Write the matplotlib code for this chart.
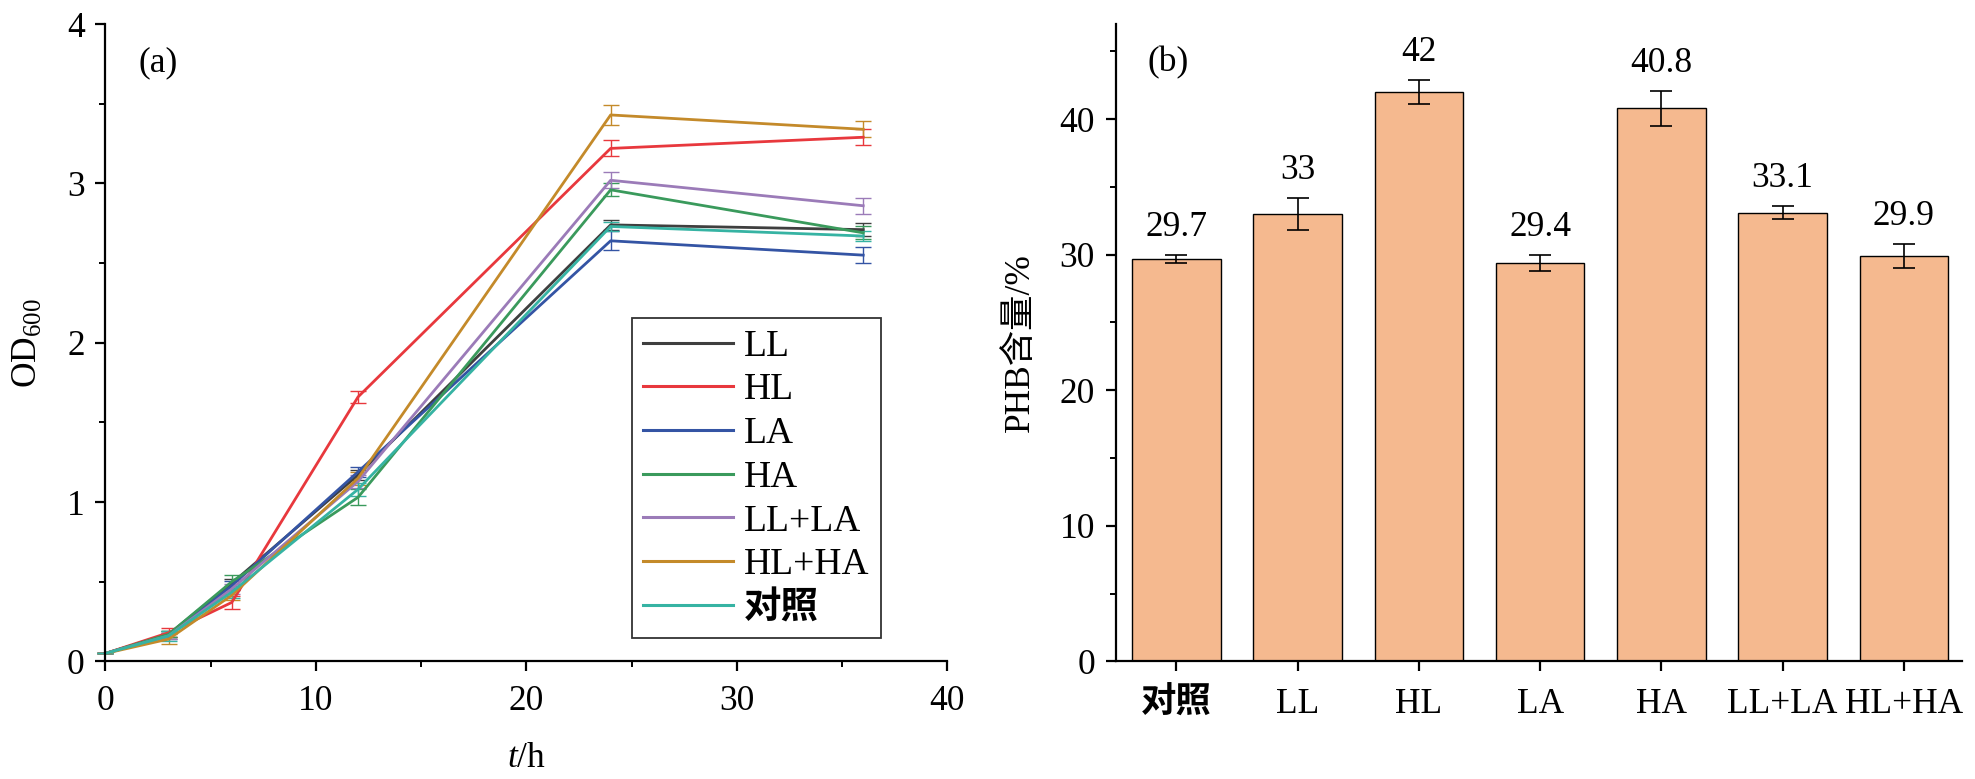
import numpy as np
import matplotlib
matplotlib.use('Agg')
import matplotlib.pyplot as plt
from matplotlib.ticker import MultipleLocator
from matplotlib.lines import Line2D

plt.rcParams['font.family'] = ['Liberation Serif', 'Noto Sans CJK SC']
plt.rcParams['mathtext.fontset'] = 'custom'
plt.rcParams['mathtext.rm'] = 'Liberation Serif'
plt.rcParams['mathtext.it'] = 'Liberation Serif:italic'
plt.rcParams['font.size'] = 25.5

# ---- (a) growth curves
t = [0, 3, 6, 12, 24, 36]
names = ['LL', 'HL', 'LA', 'HA', 'LL+LA', 'HL+HA', '对照']
od_LL = [0.05, 0.17, 0.49, 1.17, 2.74, 2.71]
od_HL = [0.05, 0.18, 0.37, 1.66, 3.22, 3.29]
od_LA = [0.05, 0.16, 0.475, 1.19, 2.64, 2.55]
od_HA = [0.05, 0.17, 0.50, 1.03, 2.96, 2.69]
od_LLLA = [0.05, 0.16, 0.455, 1.13, 3.02, 2.86]
od_HLHA = [0.05, 0.14, 0.415, 1.15, 3.43, 3.34]
od_ck = [0.05, 0.16, 0.435, 1.08, 2.73, 2.67]
err_LL = [0, 0.02, 0.03, 0.03, 0.03, 0.04]
err_HL = [0, 0.03, 0.04, 0.04, 0.05, 0.05]
err_LA = [0, 0.02, 0.03, 0.03, 0.06, 0.05]
err_HA = [0, 0.02, 0.04, 0.05, 0.04, 0.04]
err_LLLA = [0, 0.02, 0.03, 0.04, 0.05, 0.05]
err_HLHA = [0, 0.03, 0.03, 0.04, 0.06, 0.05]
err_ck = [0, 0.03, 0.04, 0.04, 0.03, 0.03]
colors = ['#3f3f3f', '#e8383d', '#3454a4', '#3a9a5c', '#9b7bb8', '#c48a2a', '#36b3a3']

# ---- (b) PHB content
groups = ['对照', 'LL', 'HL', 'LA', 'HA', 'LL+LA', 'HL+HA']
phb = [29.7, 33, 42, 29.4, 40.8, 33.1, 29.9]
phb_err = [0.3, 1.2, 0.9, 0.6, 1.3, 0.5, 0.9]

fig = plt.figure(figsize=(19.75, 7.79), dpi=100)
ax1 = fig.add_axes([0.0534, 0.151, 0.4263, 0.818])
ax2 = fig.add_axes([0.565, 0.151, 0.4284, 0.818])

series = [od_LL, od_HL, od_LA, od_HA, od_LLLA, od_HLHA, od_ck]
errs = [err_LL, err_HL, err_LA, err_HA, err_LLLA, err_HLHA, err_ck]
for name, y, e, c in zip(names, series, errs, colors):
    ax1.errorbar(t, y, yerr=e, color=c, lw=2.0, elinewidth=1.0, capsize=6,
                 capthick=1.0, clip_on=False)

ax1.set_xlim(0, 40)
ax1.set_ylim(0, 4)
ax1.xaxis.set_major_locator(MultipleLocator(10))
ax1.xaxis.set_minor_locator(MultipleLocator(5))
ax1.yaxis.set_major_locator(MultipleLocator(1))
ax1.yaxis.set_minor_locator(MultipleLocator(0.5))
ax1.set_xlabel('$t$/h', labelpad=17)
ax1.set_ylabel('OD$_{600}$', labelpad=16)
ax1.text(0.039, 0.94, '(a)', transform=ax1.transAxes, va='center')
handles = [Line2D([], [], color=c, lw=2.2) for c in colors]
leg = ax1.legend(handles, names, loc='lower left', bbox_to_anchor=(0.625, 0.037),
                 borderaxespad=0, frameon=True, fancybox=False, edgecolor='black',
                 labelspacing=0.245, handlelength=2.4, handletextpad=0.3,
                 borderpad=0.3, fontsize=27)
leg.get_frame().set_linewidth(1.3)
leg.get_texts()[-1].set_fontweight('bold')

xb = np.arange(len(groups))
ax2.bar(xb, phb, width=0.73, color='#f5b98f', edgecolor='black', linewidth=1.0,
        yerr=phb_err, error_kw=dict(ecolor='black', elinewidth=1.2, capsize=8, capthick=1.2))
for xi, v, e in zip(xb, phb, phb_err):
    ax2.text(xi, v + e + 0.8, f'{v:g}', ha='center', va='bottom')
ax2.set_xlim(-0.5, 6.48)
ax2.set_ylim(0, 47)
ax2.set_xticks(xb)
ax2.set_xticklabels(groups)
ax2.get_xticklabels()[0].set_fontweight('bold')
ax2.yaxis.set_major_locator(MultipleLocator(10))
ax2.yaxis.set_minor_locator(MultipleLocator(5))
ax2.set_ylabel('PHB含量/%', labelpad=16)
ax2.text(0.037, 0.94, '(b)', transform=ax2.transAxes, va='center')

for ax in (ax1, ax2):
    ax.spines['top'].set_visible(False)
    ax.spines['right'].set_visible(False)
    ax.spines['left'].set_linewidth(1.6)
    ax.spines['bottom'].set_linewidth(1.6)
    ax.tick_params(which='major', direction='out', length=7, width=1.6, pad=8)
    ax.tick_params(which='minor', direction='out', length=4, width=1.4)
ax2.tick_params(axis='x', which='minor', bottom=False)
ax2.tick_params(axis='x', which='major', pad=12)
ax1.tick_params(axis='x', which='major', pad=10)

fig.savefig('out.png', dpi=100)
